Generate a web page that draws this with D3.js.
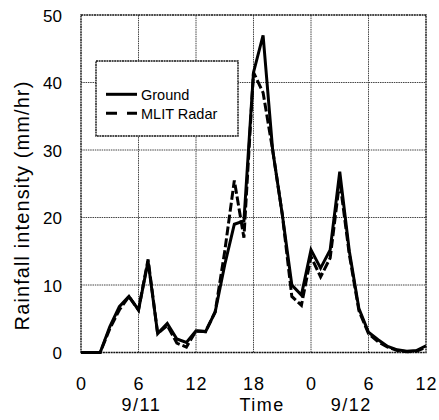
<!DOCTYPE html>
<html>
<head>
<meta charset="utf-8">
<script src="https://cdn.jsdelivr.net/npm/d3@7/dist/d3.min.js"></script>
<style>
  body { margin: 0; background: #fff; }
  svg { display: block; }
  text { font-family: "Liberation Sans", Arial, sans-serif; fill: #000; }
</style>
</head>
<body>
<svg id="plot" width="439" height="420"></svg>
<script>

// hourly time steps, 0h on 9/11 to 12h on 9/12
const HOURS = d3.range(0, 37);

// rainfall intensity (mm/hr)
const GROUND = [0, 0, 0, 3.8, 6.8, 8.3, 6.3, 13.5, 2.8, 4.3, 2.0, 1.5, 3.2, 3.1, 6.0, 13, 19, 19.5,
    41.5, 47, 30, 20.5, 10, 8.5, 15.2, 12.5, 15.2, 26.8, 15, 6.5, 3.0, 1.9, 0.9, 0.4, 0.2, 0.3, 1.0];
const RADAR = [0, 0, 0, 3.5, 6.3, 8.3, 6.3, 13.8, 2.8, 4.0, 1.4, 0.8, 3.2, 3.1, 6.0, 15, 25.5, 17,
    41.5, 38.5, 30, 20.5, 8.3, 7.0, 14.2, 11.2, 14, 25.5, 14.5, 6.2, 2.8, 1.6, 0.8, 0.3, 0.1, 0.2, 0.8];

const X_TICKS = [0, 6, 12, 18, 24, 30, 36];
const X_TICK_LABELS = ['0', '6', '12', '18', '0', '6', '12'];
const Y_TICKS = [0, 10, 20, 30, 40, 50];
const SUB_LABELS = ['9/11', 'Time', '9/12'];
const SERIES_NAMES = ['Ground', 'MLIT Radar'];

const svg = d3.select('#plot');

const x = d3.scaleLinear().domain([0, 36]).range([81, 426]);
const y = d3.scaleLinear().domain([0, 50]).range([352.5, 15]);

// grid
const grid = svg.append('g')
    .attr('stroke', '#444')
    .attr('stroke-width', 1)
    .attr('stroke-dasharray', '1.5,0.8');

grid.selectAll('.vx')
    .data(X_TICKS.slice(1, -1))
    .enter()
    .append('line')
        .attr('x1', d => x(d)).attr('x2', d => x(d))
        .attr('y1', y(0)).attr('y2', y(50));

grid.selectAll('.hy')
    .data(Y_TICKS.slice(1, -1))
    .enter()
    .append('line')
        .attr('x1', x(0)).attr('x2', x(36))
        .attr('y1', d => y(d)).attr('y2', d => y(d));

// frame
svg.append('rect')
    .attr('x', x(0)).attr('y', y(50))
    .attr('width', x(36) - x(0)).attr('height', y(0) - y(50))
    .attr('fill', 'none')
    .attr('stroke', '#111')
    .attr('stroke-width', 1.4)
    .attr('stroke-dasharray', '2,0.6');

// axes (labels only)
const xAxis = svg.append('g')
    .attr('transform', `translate(0,${y(0)})`)
    .call(d3.axisBottom(x).tickValues(X_TICKS).tickSize(0)
        .tickFormat((d, i) => X_TICK_LABELS[i]));
xAxis.select('.domain').remove();
xAxis.selectAll('text')
    .attr('y', 37.5).attr('dy', 0)
    .style('font-size', '18px')
    .style('letter-spacing', '1px')
    .attr('fill', '#000');

const yAxis = svg.append('g')
    .attr('transform', `translate(${x(0)},0)`)
    .call(d3.axisLeft(y).tickValues(Y_TICKS).tickSize(0).tickPadding(19));
yAxis.select('.domain').remove();
yAxis.selectAll('text')
    .attr('dy', '0.36em')
    .style('font-size', '17px')
    .attr('fill', '#000');

// second row under the x axis
const SUB_AT = [6.3, 18.9, 28.2];
svg.selectAll('.sub')
    .data(SUB_LABELS)
    .enter()
    .append('text')
        .attr('x', (d, i) => x(SUB_AT[i]))
        .attr('y', 411)
        .attr('text-anchor', 'middle')
        .style('font-size', '18px')
        .style('letter-spacing', '1.5px')
        .text(d => d);

svg.append('text')
    .attr('transform', 'translate(29,205.5) rotate(-90)')
    .attr('text-anchor', 'middle')
    .style('font-size', '20px')
    .style('letter-spacing', '1.1px')
    .text('Rainfall intensity (mm/hr)');

// series
const line = d3.line()
    .x((d, i) => x(HOURS[i]))
    .y(d => y(d));

svg.append('path')
    .datum(GROUND)
    .attr('d', line)
    .attr('fill', 'none')
    .attr('stroke', '#000')
    .attr('stroke-width', 3)
    .attr('stroke-linejoin', 'miter');

svg.append('path')
    .datum(RADAR)
    .attr('d', line)
    .attr('fill', 'none')
    .attr('stroke', '#000')
    .attr('stroke-width', 3)
    .attr('stroke-dasharray', '9,3');

// legend
const legend = svg.append('g');
legend.append('rect')
    .attr('x', 96).attr('y', 61)
    .attr('width', 142).attr('height', 75)
    .attr('fill', '#fff')
    .attr('stroke', '#111')
    .attr('stroke-width', 1.4)
    .attr('stroke-dasharray', '2,0.6');

const rows = legend.selectAll('.row')
    .data(SERIES_NAMES)
    .enter()
    .append('g')
        .attr('transform', (d, i) => `translate(0,${94.3 + i * 19})`);

rows.append('line')
    .attr('x1', 106).attr('x2', 137)
    .attr('y1', 0).attr('y2', 0)
    .attr('stroke', '#000')
    .attr('stroke-width', 3)
    .attr('stroke-dasharray', (d, i) => i === 0 ? null : '11,10');

rows.append('text')
    .attr('x', 141)
    .attr('y', 5.2)
    .style('font-size', '14.5px')
    .text(d => d);

</script>
</body>
</html>
